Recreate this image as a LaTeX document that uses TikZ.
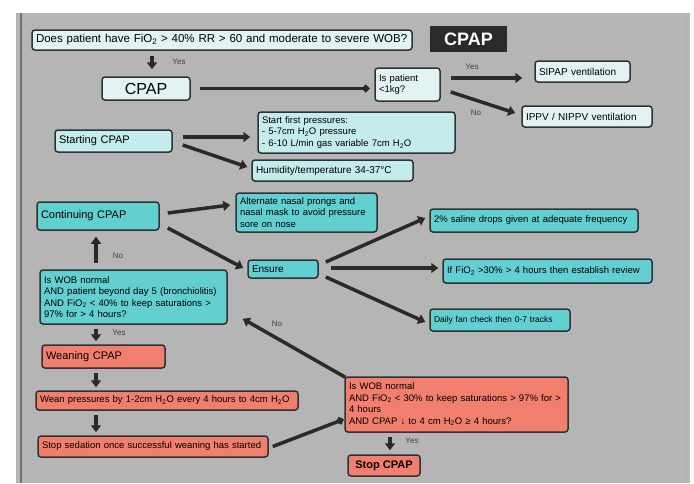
\documentclass[tikz,border=0pt]{standalone}
\usepackage{fontspec}
\setmainfont{Liberation Sans}
\usetikzlibrary{arrows.meta,calc}
\definecolor{bg}{HTML}{B5B5B5}
\definecolor{lite}{HTML}{E3F3F3}
\definecolor{litec}{HTML}{C4ECEC}
\definecolor{tealc}{HTML}{62CFD0}
\definecolor{salmon}{HTML}{F27F6E}
\definecolor{bd}{HTML}{2E3333}
\definecolor{ac}{HTML}{2A2A2A}
\begin{document}
\begin{tikzpicture}[x=1pt,y=-1pt,
  box/.style={draw=bd,line width=1.5pt,rounded corners=3pt,inner xsep=4pt,inner ysep=1pt,align=left,
    font=\fontsize{9.5}{11.5}\selectfont},
  head/.style={font=\fontsize{11}{13}\selectfont},
  arr/.style={draw=ac,line width=3.5pt,-{Triangle[length=7pt,width=10pt]}},
  darr/.style={draw=ac,line width=3.5pt,-{Circle[length=7pt]}},
  lbl/.style={font=\fontsize{8}{9}\selectfont,text=black!75}]
\useasboundingbox (0,0) rectangle (694,483);
\fill[white] (0,0) rectangle (694,483);
\fill[bg] (16,13) rectangle (690,483);
\draw[black!55,line width=1.5pt] (21,13) -- (21,483);
\draw[black!25,line width=1pt] (681,13) -- (681,483);

% top section
\node[box,fill=lite,text width=372pt,minimum height=20pt,font=\fontsize{11.5}{13}\selectfont] (q1) at (222,40)
  {Does patient have FiO\textsubscript{2} > 40\% RR > 60 and moderate to severe WOB?};
\node[fill=ac,text=white,font=\bfseries\fontsize{18}{20}\selectfont,minimum width=77pt,minimum height=26pt,inner sep=0pt] (title) at (468.5,39) {CPAP};
\node[box,fill=lite,align=center,minimum width=88pt,minimum height=23pt,font=\fontsize{16}{18}\selectfont] (cpap) at (146,88.5) {CPAP};
\node[box,fill=lite,text width=57pt,minimum height=33pt] (kg) at (407.5,84.5) {Is patient\\<1kg?};
\node[box,fill=lite,text width=87pt,minimum height=21pt,font=\fontsize{10}{12}\selectfont] (sipap) at (582.5,71.5) {SIPAP ventilation};
\node[box,fill=lite,text width=122pt,minimum height=21pt,font=\fontsize{10}{12}\selectfont] (ippv) at (587,116.5) {IPPV / NIPPV ventilation};

% starting
\node[box,fill=litec,text width=109pt,minimum height=22pt,head] (start) at (113.5,141) {Starting CPAP};
\node[box,fill=litec,text width=189pt,minimum height=41pt] (press) at (356.5,132.5)
  {Start first pressures:\\- 5-7cm H\textsubscript{2}O pressure\\- 6-10 L/min gas variable 7cm H\textsubscript{2}O};
\node[box,fill=litec,text width=153pt,minimum height=21pt,font=\fontsize{10}{12}\selectfont] (humid) at (332.5,170.5) {Humidity/temperature 34-37°C};

% continuing
\node[box,fill=tealc,text width=114pt,minimum height=28pt,head] (cont) at (98,216) {Continuing CPAP};
\node[box,fill=tealc,text width=133pt,minimum height=39pt] (alt) at (306.5,212.5)
  {Alternate nasal prongs and\\nasal mask to avoid pressure\\sore on nose};
\node[box,fill=tealc,text width=62pt,minimum height=18pt,font=\fontsize{10}{12}\selectfont] (ensure) at (283,269) {Ensure};
\node[box,fill=tealc,text width=200pt,minimum height=23pt] (saline) at (534,220.5) {2\% saline drops given at adequate frequency};
\node[box,fill=tealc,text width=201pt,minimum height=24pt] (fio) at (547.5,271) {If FiO\textsubscript{2} >30\% > 4 hours then establish review};
\node[box,fill=tealc,text width=132pt,minimum height=22pt,font=\fontsize{8.5}{10}\selectfont] (daily) at (500,320) {Daily fan check then 0-7 tracks};
\node[box,fill=tealc,text width=179pt,minimum height=54pt] (qt) at (133.5,297)
  {Is WOB normal\\AND patient beyond day 5 (bronchiolitis)\\AND FiO\textsubscript{2} < 40\% to keep saturations >\\97\% for > 4 hours?};

% weaning
\node[box,fill=salmon,text width=115pt,minimum height=23pt,head] (wean) at (103.5,356.5) {Weaning CPAP};
\node[box,fill=salmon,text width=254pt,minimum height=19pt] (wp) at (167,400.5) {Wean pressures by 1-2cm H\textsubscript{2}O every 4 hours to 4cm H\textsubscript{2}O};
\node[box,fill=salmon,text width=222pt,minimum height=21pt] (sed) at (153,446.5) {Stop sedation once successful weaning has started};
\node[box,fill=salmon,text width=215pt,minimum height=55pt] (redq) at (456.5,404.5)
  {Is WOB normal\\AND FiO\textsubscript{2} < 30\% to keep saturations > 97\% for >\\4 hours\\AND CPAP \textbf{↓} to 4 cm H\textsubscript{2}O ≥ 4 hours?};
\node[box,fill=salmon,align=center,minimum width=72pt,minimum height=21pt,font=\bfseries\fontsize{11}{13}\selectfont] (stop) at (384,465.5) {Stop CPAP};

% connectors
\draw[arr] ($(q1.south -| cpap.north)+(6,5)$) -- ($(cpap.north)+(6,-7)$);
\node[lbl] (y1) at (179,62) {Yes};
\draw[darr] ($(cpap.east)+(9,0)$) -- ($(cpap.east -| kg.west)+(-5,0)$);
\draw[arr] ($(kg.east)+(10,-6.5)$) -- ($(sipap.west)+(-12,6.5)$);
\node[lbl] (y2) at (472,67) {Yes};
\draw[arr] ($(kg.east)+(10,7.5)$) -- ($(ippv.west)+(-6,-3.5)$);
\node[lbl] (n2) at (476,113) {No};

\draw[arr] ($(start.east)+(10,-4)$) -- ($(press.west)+(-7,4.5)$);
\draw[arr] ($(start.east)+(10,4)$) -- ($(humid.west)+(-4,-3.5)$);

\draw[arr] ($(cont.east)+(8,-3)$) -- ($(alt.west)+(-5,-7.5)$);
\draw[arr] ($(cont.east)+(8,12)$) -- ($(ensure.west)+(-4,-1)$);
\draw[arr] ($(ensure.east)+(7,-7)$) -- ($(saline.west)+(-4,-2.5)$);
\draw[arr] ($(ensure.east)+(12,-1)$) -- ($(fio.west)+(-4,-3)$);
\draw[arr] ($(ensure.east)+(7,8)$) -- ($(daily.west)+(-4,2)$);

\draw[arr] ($(qt.north -| cont.south)+(-2,-6)$) -- ($(cont.south)+(-2,6)$);
\node[lbl] (n3) at (118,256) {No};
\draw[arr] ($(qt.south -| cont.south)+(-2,4)$) -- ($(wean.north -| cont.south)+(-2,-3)$);
\node[lbl] (y3) at (119,333) {Yes};
\draw[arr] ($(wean.south -| cont.south)+(-2,4)$) -- ($(wp.north -| cont.south)+(-2,-3)$);
\draw[arr] ($(wp.south -| cont.south)+(-2,4)$) -- ($(sed.north -| cont.south)+(-2,-3)$);

\draw[darr] ($(sed.east)+(4,0)$) -- ($(redq.west)+(-1,15)$);
\draw[arr] ($(redq.north west)+(1,1)$) -- ($(qt.south east)+(15,-6)$);
\node[lbl] (n4) at (277,324) {No};
\draw[arr] ($(redq.south -| stop.north)+(6,4)$) -- ($(stop.north)+(6,-4)$);
\node[lbl] (y4) at (412,441) {Yes};
\end{tikzpicture}
\end{document}
